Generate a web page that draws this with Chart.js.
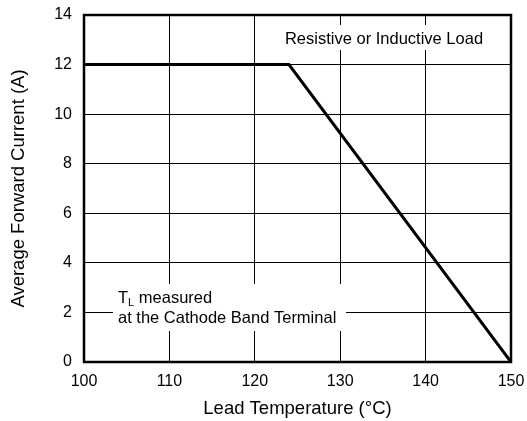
<!DOCTYPE html>
<html>
<head>
<meta charset="utf-8">
<script src="https://cdn.jsdelivr.net/npm/chart.js@4.4.0/dist/chart.umd.min.js"></script>
<style>
  html, body { margin: 0; padding: 0; background: #fff; }
  #wrap { width: 527px; height: 421px; }
</style>
</head>
<body>
<div id="wrap"><canvas id="chart" width="527" height="421"></canvas></div>
<script>
// 데이터
const temps = [100, 124, 150];
const currents = [12, 12, 0];
const xTicks = [100, 110, 120, 130, 140, 150];
const yTicks = [0, 2, 4, 6, 8, 10, 12, 14];

const FONT = '"Liberation Sans", Arial, Helvetica, sans-serif';

// 테두리와 메모 상자
const annotations = {
    id: 'annotations',
    beforeDatasetsDraw(chart) {
        const ctx = chart.ctx;
        const a = chart.chartArea;

        ctx.save();
        // 위쪽 상자
        ctx.fillStyle = '#fff';
        ctx.fillRect(276, 25, 220, 25);
        // 아래쪽 상자
        ctx.fillRect(113, 284, 233, 47);

        ctx.fillStyle = '#000';
        ctx.font = '16.5px ' + FONT;
        ctx.textBaseline = 'middle';
        ctx.textAlign = 'center';
        ctx.fillText('Resistive or Inductive Load', 384, 39);

        ctx.textAlign = 'left';
        let x0 = 118, y1 = 298;
        ctx.fillText('T', x0, y1);
        let w = ctx.measureText('T').width;
        ctx.font = '11px ' + FONT;
        ctx.fillText('L', x0 + w, y1 + 5);
        let w2 = ctx.measureText('L').width;
        ctx.font = '16.5px ' + FONT;
        ctx.fillText(' measured', x0 + w + w2, y1);
        ctx.fillText('at the Cathode Band Terminal', 118, 318);

        // 테두리
        ctx.strokeStyle = '#000';
        ctx.lineWidth = 2.5;
        ctx.strokeRect(a.left, a.top, a.right - a.left, a.bottom - a.top);
        ctx.restore();
    }
};

const ctx = document.getElementById('chart').getContext('2d');
new Chart(ctx, {
    type: 'line',
    data: {
        datasets: [{
            data: temps.map((t, i) => ({ x: t, y: currents[i] })),
            borderColor: '#000',
            borderWidth: 3,
            pointRadius: 0,
            fill: false,
            tension: 0
        }]
    },
    options: {
        responsive: false,
        animation: false,
        layout: { padding: { top: 15, right: 16, left: 0, bottom: 0 } },
        plugins: {
            legend: { display: false },
            tooltip: { enabled: false }
        },
        scales: {
            x: {
                type: 'linear',
                min: 100,
                max: 150,
                afterBuildTicks: s => { s.ticks = xTicks.map(v => ({ value: v })); },
                afterFit: s => { s.height = 59; s.paddingLeft = 0; s.paddingRight = 0; },
                grid: { color: '#000', lineWidth: 1, drawTicks: false },
                border: { display: false },
                ticks: { color: '#000', padding: 10, font: { family: FONT, size: 16 }, maxRotation: 0 },
                title: {
                    display: true,
                    text: 'Lead Temperature (°C)',
                    color: '#000',
                    font: { family: FONT, size: 18.5 },
                    padding: { top: 0, bottom: 1 }
                }
            },
            y: {
                min: 0,
                max: 14,
                afterBuildTicks: s => { s.ticks = yTicks.map(v => ({ value: v })); },
                afterFit: s => { s.width = 84; s.paddingTop = 0; s.paddingBottom = 0; },
                grid: { color: '#000', lineWidth: 1, drawTicks: false },
                border: { display: false },
                ticks: { color: '#000', padding: 12, font: { family: FONT, size: 16 } },
                title: {
                    display: true,
                    text: 'Average Forward Current (A)',
                    color: '#000',
                    font: { family: FONT, size: 18.5 },
                    padding: { top: 8, bottom: 0 }
                }
            }
        }
    },
    plugins: [annotations]
});
</script>
</body>
</html>
